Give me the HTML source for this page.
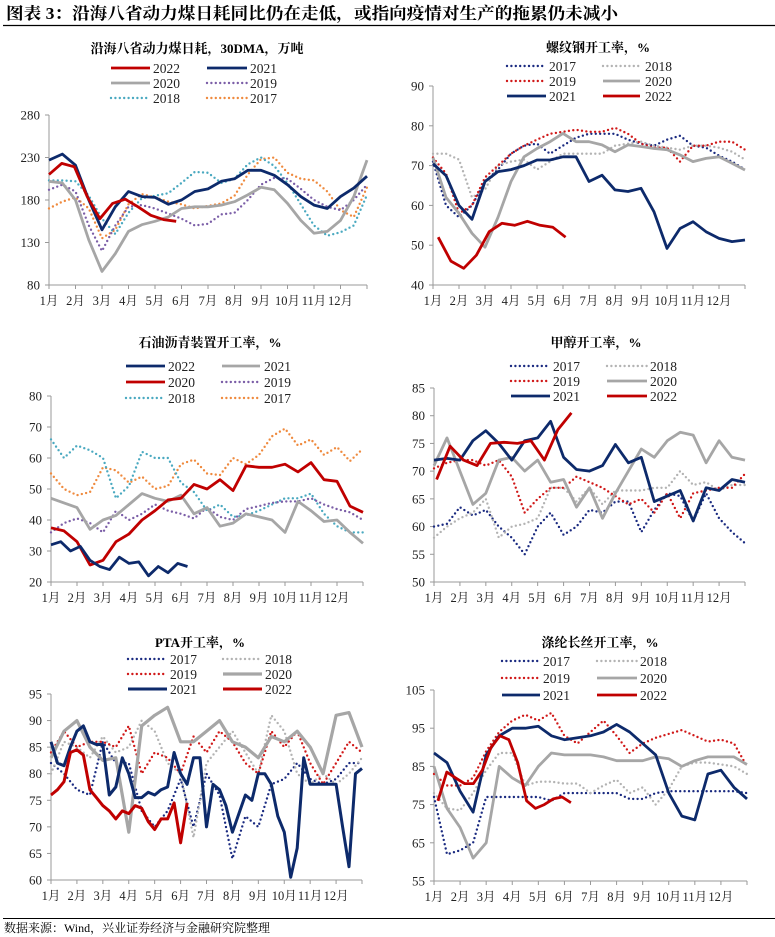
<!DOCTYPE html>
<html><head><meta charset="utf-8">
<style>
html,body{margin:0;padding:0;background:#fff;}
svg{display:block;font-family:"Liberation Serif","Noto Serif CJK SC",serif;}
</style></head>
<body>
<svg id="fig" width="775" height="937" viewBox="0 0 775 937" xmlns="http://www.w3.org/2000/svg">
<text x="6" y="19" font-size="16.5" font-weight="bold" fill="#000" textLength="612" lengthAdjust="spacingAndGlyphs">图表 3：沿海八省动力煤日耗同比仍在走低，或指向疫情对生产的拖累仍未减小</text>
<line x1="3" y1="25.5" x2="775" y2="25.5" stroke="#000" stroke-width="1.2"/>
<line x1="3" y1="918.5" x2="775" y2="918.5" stroke="#000" stroke-width="1"/>
<text x="4" y="932" font-size="12" fill="#000" textLength="266" lengthAdjust="spacingAndGlyphs">数据来源：Wind，兴业证券经济与金融研究院整理</text>
</svg>
<script>
// ---------- Chart 1: coal consumption ----------
const c1_2022 = [210,223,219,184,158,176,181,172,162,157,155];
const c1_2021 = [227,234,221,180,145,172,190,184,183,175,180,190,193,202,205,215,215,209,198,184,174,170,184,194,208];
const c1_2020 = [202,200,180,133,96,117,143,151,155,160,170,172,172,174,178,186,195,192,176,156,141,143,156,184,227];
const c1_2019 = [192,198,190,150,120,150,172,174,170,164,158,150,152,163,165,180,198,206,205,193,180,172,168,180,198];
const c1_2018 = [203,203,202,185,158,140,165,182,185,188,200,213,212,200,205,222,230,220,200,175,150,138,142,150,186];
const c1_2017 = [170,178,183,170,135,145,175,187,183,178,175,170,173,176,185,210,228,230,212,205,203,190,168,160,195];
const c1_ticks = [80,130,180,230,280];
// ---------- Chart 2: rebar ----------
const c2_2017 = [71,60,57,60,66,69,73,75,75.5,73,75,77,78,78,78,76.5,75.5,75,76.5,77.5,75,74.5,72.5,71,69];
const c2_2018 = [73,73,71.5,62,64,70,71,71.5,69,71,73,73,73,73,75,75.5,76,75,74.5,74,75,75,74.5,73.5,71.5];
const c2_2019 = [72,68,58,60,67,70,73,75,76.5,78,78.5,79,78.5,78.5,79.5,78,75.5,74.5,74.5,71,75,75,76,76,74];
const c2_2020 = [72,62,58,53,49.5,57,66,72.2,74.3,76,78.1,76,76,75.2,73.5,75.2,74.8,74.3,74,72.7,71,71.8,72.2,70.6,68.9];
const c2_2021 = [70.5,67.5,60,56.5,66,68.5,69,70,71.4,71.4,72.2,72.2,66,67.6,63.9,63.5,64.3,58.4,49.2,54.2,55.9,53.4,51.7,50.9,51.3];
const c2_2022 = [52,46,44.2,47.5,53.4,55.5,55,56,55,54.5,52];
const c2_ticks = [40,50,60,70,80,90];
// ---------- Chart 3: asphalt ----------
const c3_2022 = [32,33,30,31.5,27,25,24,28,26,26.5,22,25,23,26,25];
const c3_2021 = [47,45.5,44,37,40,41.5,45,48.5,47,46,48,42,44,38,39,42,41,40,36,46,43,39.5,40,36,32.5];
const c3_2020 = [37.5,36.5,33,25.5,27,33,35.5,40,43,46.5,47,51.5,50,53,49.5,57.5,57,57,58,55.5,58.5,53,52.5,44.5,42.5];
const c3_2019 = [36,39,40.5,39,36,43,40,42,45,43,42,40.5,44,41,40,43.5,44.5,45.5,46,46,47,45,43.5,42.5,40];
const c3_2018 = [66,60,64,62.5,60,47,51,62,60,60,52,49,43,45,41,41.5,43,45,47,47,48.5,42,38,36,36];
const c3_2017 = [55,50,48,49,57,56,52,54,50,51,58,59.5,55,54.5,60,58,61,67,69.5,64,66,61,63.5,59,63];
const c3_ticks = [20,30,40,50,60,70,80];
// ---------- Chart 4: methanol ----------
const c4_2017 = [60,60.5,63.5,62,63,60,58,55,60,62.5,58.5,60,63,62.5,64.5,64.5,59,63,66,65.5,61,66,61.5,59,57];
const c4_2018 = [58,60,61.5,62.5,65,58,60,60.5,61.5,67,67,64.5,67,64,66.5,66.5,66.5,67,67,70,67.5,68,66.5,67.5,67.5];
const c4_2019 = [70.5,71.5,72,72,71,72,69,62.5,65,67,67,69,68,67,65.5,64,65,62.5,66,61.5,66,66.5,67,67,69.5];
const c4_2020 = [71,76,70,64,66,72,72.5,70,72,68,68.5,63.5,67,61.5,66,70,74,72.5,75.5,77,76.5,71.5,75.5,72.5,72];
const c4_2021 = [72,72.3,72,75.5,77.3,75,72,75.5,76,79,72.5,70.3,70,71,74.8,71.5,72.5,64.5,65.5,66.5,61,67,66.5,68.5,68];
const c4_2022 = [68.5,74.5,72,71,75,75.2,75,75.5,72,77.5,80.5];
const c4_ticks = [50,55,60,65,70,75,80,85];
// ---------- Chart 5: PTA ----------
const c5_2017 = [82,80,77,76,86,82,82,73,70,73,79,70,80,76,64,72,70,78,79,82,79,78,79,82,82];
const c5_2018 = [80,86,85,83,87,84,85,90,88,82,80,68,82,85,88,84,80,91,88,80,78,80,78,80,83];
const c5_2019 = [84,88,85,86,86,85,89,80,84,83,80,87,84,88,86,82,80,88,85,88,82,78,82,86,84];
const c5_2020 = [83,88,90,85,82.5,83,69,89,91,92.5,86,86,88,90,86,85,83,87,86,88,85,80,91,91.5,85];
const c5_2021 = [86,82,81.5,85,88,89,86,85.5,85.5,76,77.5,83,80,75.5,75.5,76.5,76,77,77.5,84,80,78,83,83,70,78,77,74,69,72.5,76,75,80,80,78,72,69,60.5,66,83,78,78,78,78,78,70,62.5,80,81];
const c5_2022 = [76,77,78.5,84,84.5,83.5,77,75.5,74,73,71.5,73,72.5,74,73.5,71,69.5,71.5,71.5,74.5,67,74.5];
const c5_ticks = [60,65,70,75,80,85,90,95];
// ---------- Chart 6: polyester filament ----------
const c6_2017 = [77,62,63,65,77,77,77,77,77,76,78,78,78,78,78,76.5,76.5,78,78.5,78.5,78.5,78.5,78.5,78.5,78];
const c6_2018 = [78,74,73.5,78,84,88.5,88.5,80,81,81,80.5,80.5,78,80,81.5,78,79.5,75,79,85,86,86,85.5,85,83];
const c6_2019 = [83,80,80,82,89,94,97,98.5,97,99,93,91,94,97,93,88.5,91,92.5,93.5,94.5,93,91.5,92,91,85];
const c6_2020 = [85,74,69,61,65,85,82,80,85,88.5,88,88,88,87.5,86.5,86.5,86.5,87.5,87,85,86.5,87.5,87.5,87.5,85.5];
const c6_2021 = [88.5,86,78.5,73,88,93,95,95,95.5,93,92,92.5,93,94,96,94,91,88,78,72,71,83,84,79.5,76.5];
const c6_2022 = [76,83.5,82,80.5,80.5,84,90,93,92,86,76,74,75,76.5,77,75.5];
const c6_ticks = [55,65,75,85,95,105];
const months = ["1月","2月","3月","4月","5月","6月","7月","8月","9月","10月","11月","12月"];

const NS = "http://www.w3.org/2000/svg";
const svg = document.getElementById('fig');
const C = {red:"#c00000", navy:"#0d2a6b", gray:"#a6a6a6", purple:"#7b5ea7", teal:"#4aa9c0", orange:"#ef8a3e", navyd:"#1a2a80", grayd:"#b3b3b3", redd:"#d01818"};

function mk(tag, attrs, parent){
  const e = document.createElementNS(NS, tag);
  for (const k in attrs) e.setAttribute(k, attrs[k]);
  (parent||svg).appendChild(e);
  return e;
}
function styleOf(s){
  if (s.dot) return {stroke:s.color, "stroke-width":2.4, "stroke-dasharray":"0 4.4", "stroke-linecap":"round", fill:"none"};
  return {stroke:s.color, "stroke-width":s.w||2.8, fill:"none", "stroke-linejoin":"round"};
}

function chart(cfg){
  const g = mk('g', {});
  
  
  const xs = m => cfg.x0 + (cfg.x1-cfg.x0)*m/12;
  const ys = v => cfg.yb + (cfg.yt-cfg.yb)*(v-cfg.min)/(cfg.max-cfg.min);
  const t = mk('text', {x:cfg.tx, y:cfg.ty, "font-size":13, "font-weight":"bold", "text-anchor":"middle"}, g);
  t.textContent = cfg.title;
  
  
  const ya = mk('line', {x1:cfg.x0, y1:cfg.yt, x2:cfg.x0, y2:cfg.yb, stroke:"#999", "stroke-width":1}, g);
  
  
  const xa = mk('line', {x1:cfg.x0, y1:cfg.yb, x2:cfg.x1, y2:cfg.yb, stroke:"#999", "stroke-width":1}, g);
  
  
  cfg.ticks.forEach(v => {
    mk('line', {x1:cfg.x0-4, y1:ys(v), x2:cfg.x0, y2:ys(v), stroke:"#999"}, g);
    const tl = mk('text', {x:cfg.x0-9, y:ys(v)+4.5, "font-size":13, "text-anchor":"end", fill:"#222"}, g);
    tl.textContent = v;
    
    
  });
  for (let m=0; m<=12; m++) mk('line', {x1:xs(m), y1:cfg.yb, x2:xs(m), y2:cfg.yb+4, stroke:"#999"}, g);
  months.forEach((mn, i) => {
    const ml = mk('text', {x:xs(i), y:cfg.yb+20, "font-size":12.5, "text-anchor":"middle", fill:"#222"}, g);
    ml.textContent = mn;
    
    
  });
  const order = cfg.series.slice().sort((a,b)=> (b.dot?1:0)-(a.dot?1:0));
  order.forEach(s => {
    const step = s.step || 0.5, start = s.start || 0;
    const d = s.data.map((v,i)=> (i?'L':'M') + xs(start+i*step).toFixed(1) + ',' + ys(v).toFixed(1)).join('');
    const p = mk('path', Object.assign({d:d}, styleOf(s)), g);
    
    
  });
  cfg.legend.forEach((row, ri) => {
    row.forEach((s, ci) => {
      const y = cfg.ly[ri], lx = cfg.lx[ci];
      const ll = mk('line', Object.assign({x1:lx[0], y1:y, x2:lx[1], y2:y}, styleOf(s)), g);
      
      
      const lt = mk('text', {x:lx[2], y:y+5, "font-size":13.5, fill:"#222"}, g);
      lt.textContent = s.label;
      
      
    });
  });
}

(function(){
  const s22={label:"2022",data:c1_2022,color:C.red,step:0.48}, s21={label:"2021",data:c1_2021,color:C.navy},
        s20={label:"2020",data:c1_2020,color:C.gray}, s19={label:"2019",data:c1_2019,color:C.purple,dot:1},
        s18={label:"2018",data:c1_2018,color:C.teal,dot:1}, s17={label:"2017",data:c1_2017,color:C.orange,dot:1};
  chart({name:"coal-consumption-chart",title:"沿海八省动力煤日耗，30DMA，万吨",tx:197,ty:53,x0:49,x1:367,yt:115,yb:285,min:80,max:280,ticks:c1_ticks,
    series:[s17,s18,s19,s20,s21,s22],legend:[[s22,s21],[s20,s19],[s18,s17]],ly:[68,83,98],lx:[[111,150,153],[207,247,250]]});
})();
(function(){
  const s17={label:"2017",data:c2_2017,color:C.navyd,dot:1}, s18={label:"2018",data:c2_2018,color:C.grayd,dot:1},
        s19={label:"2019",data:c2_2019,color:C.redd,dot:1}, s20={label:"2020",data:c2_2020,color:C.gray},
        s21={label:"2021",data:c2_2021,color:C.navy}, s22={label:"2022",data:c2_2022,color:C.red,start:0.2,step:0.49};
  chart({name:"rebar-utilization-chart",title:"螺纹钢开工率，%",tx:598,ty:52,x0:433,x1:745,yt:86,yb:285,min:40,max:90,ticks:c2_ticks,
    series:[s17,s18,s19,s20,s21,s22],legend:[[s17,s18],[s19,s20],[s21,s22]],ly:[66,81,96],lx:[[507,546,549],[603,640,645]]});
})();
(function(){
  const s22={label:"2022",data:c3_2022,color:C.navy,step:0.375}, s21={label:"2021",data:c3_2021,color:C.gray},
        s20={label:"2020",data:c3_2020,color:C.red}, s19={label:"2019",data:c3_2019,color:C.purple,dot:1},
        s18={label:"2018",data:c3_2018,color:C.teal,dot:1}, s17={label:"2017",data:c3_2017,color:C.orange,dot:1};
  chart({name:"asphalt-utilization-chart",title:"石油沥青装置开工率，%",tx:210,ty:347,x0:51,x1:363,yt:396,yb:582,min:20,max:80,ticks:c3_ticks,
    series:[s17,s18,s19,s21,s20,s22],legend:[[s22,s21],[s20,s19],[s18,s17]],ly:[366,382,398],lx:[[126,165,168],[222,260,264]]});
})();
(function(){
  const s17={label:"2017",data:c4_2017,color:C.navyd,dot:1}, s18={label:"2018",data:c4_2018,color:C.grayd,dot:1},
        s19={label:"2019",data:c4_2019,color:C.redd,dot:1}, s20={label:"2020",data:c4_2020,color:C.gray},
        s21={label:"2021",data:c4_2021,color:C.navy}, s22={label:"2022",data:c4_2022,color:C.red,start:0.1,step:0.52};
  chart({name:"methanol-utilization-chart",title:"甲醇开工率，%",tx:596,ty:347,x0:434,x1:745,yt:388,yb:582,min:50,max:85,ticks:c4_ticks,
    series:[s17,s18,s19,s20,s21,s22],legend:[[s17,s18],[s19,s20],[s21,s22]],ly:[366,381,396],lx:[[511,550,553],[607,647,650]]});
})();
(function(){
  const s17={label:"2017",data:c5_2017,color:C.navyd,dot:1}, s18={label:"2018",data:c5_2018,color:C.grayd,dot:1},
        s19={label:"2019",data:c5_2019,color:C.redd,dot:1}, s20={label:"2020",data:c5_2020,color:C.gray,w:3.2},
        s21={label:"2021",data:c5_2021,color:C.navy,step:0.25,w:3}, s22={label:"2022",data:c5_2022,color:C.red,step:0.25,w:3};
  chart({name:"pta-utilization-chart",title:"PTA开工率，%",tx:200,ty:647,x0:51,x1:362,yt:694,yb:880,min:60,max:95,ticks:c5_ticks,
    series:[s17,s18,s19,s20,s21,s22],legend:[[s17,s18],[s19,s20],[s21,s22]],ly:[659,674,689],lx:[[128,167,170],[223,262,265]]});
})();
(function(){
  const s17={label:"2017",data:c6_2017,color:C.navyd,dot:1}, s18={label:"2018",data:c6_2018,color:C.grayd,dot:1},
        s19={label:"2019",data:c6_2019,color:C.redd,dot:1}, s20={label:"2020",data:c6_2020,color:C.gray},
        s21={label:"2021",data:c6_2021,color:C.navy}, s22={label:"2022",data:c6_2022,color:C.red,start:0.15,step:0.34};
  chart({name:"polyester-filament-utilization-chart",title:"涤纶长丝开工率，%",tx:600,ty:647,x0:434,x1:747,yt:690,yb:881,min:55,max:105,ticks:c6_ticks,
    series:[s17,s18,s19,s20,s21,s22],legend:[[s17,s18],[s19,s20],[s21,s22]],ly:[661,678,695],lx:[[502,540,543],[597,637,640]]});
})();
</script>
</body></html>
